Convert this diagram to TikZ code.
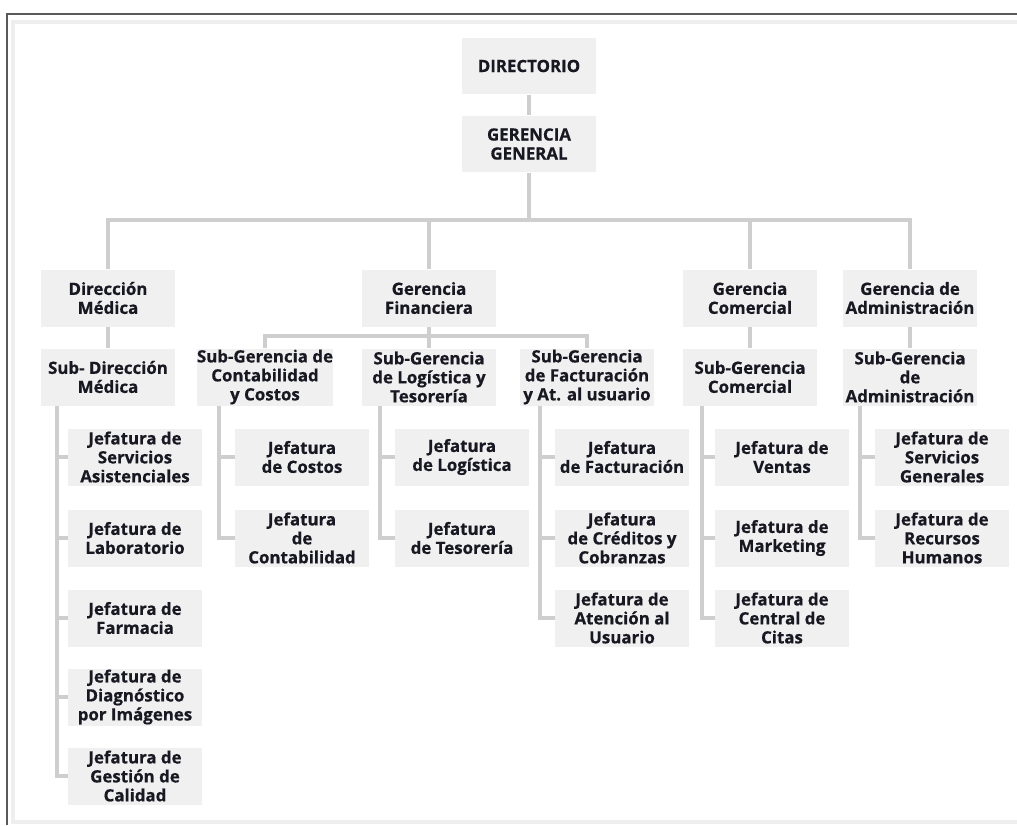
\documentclass[tikz,border=0pt]{standalone}
\usepackage{fontspec}
\setmainfont{Open Sans}[BoldFeatures={FakeBold=0.6}]
\definecolor{boxgray}{RGB}{240,240,240}
\definecolor{linegray}{RGB}{206,206,206}
\definecolor{framegray}{RGB}{238,238,238}
\definecolor{framedark}{RGB}{90,90,90}
\definecolor{textdark}{RGB}{24,24,34}
\tikzset{
	box/.style={fill=boxgray, text=textdark, font=\fontsize{9.6}{10.8}\selectfont\bfseries,
		align=center, minimum width=2.68cm, minimum height=1.14cm, inner sep=0pt},
	link/.style={draw=linegray, line width=0.08cm}
}
\begin{document}
\begin{tikzpicture}[x=0.02cm, y=-0.02cm]
	\useasboundingbox (0,0) rectangle (1017,825);
	\clip (0,0) rectangle (1017,825);
	
	% frame
	\draw[framegray, line width=0.07cm] (13,22) rectangle (1040,822);
	\draw[framedark, line width=0.03cm] (7,825) -- (7,14) -- (1017,14);
	
	% top
	\node[box] (dir) at (529, 66) {DIRECTORIO};
	\node[box] (gg) at (529, 144) {GERENCIA\\GENERAL};
	
	% gerencias
	\node[box] (dm) at (108, 298) {Dirección\\Médica};
	\node[box] (gf) at (429, 298) {Gerencia\\Financiera};
	\node[box] (gc) at (750, 298) {Gerencia\\Comercial};
	\node[box] (ga) at (910, 298) {Gerencia de\\Administración};
	
	% sub-gerencias
	\node[box] (sdm) at (108, 377) {Sub- Dirección\\Médica};
	\node[box] (sgcc) at (265, 377) {Sub-Gerencia de\\Contabilidad\\y Costos};
	\node[box] (sglt) at (429, 377) {Sub-Gerencia\\de Logística y\\Tesorería};
	\node[box] (sgfu) at (587, 377) {Sub-Gerencia\\de Facturación\\y At. al usuario};
	\node[box] (sgc) at (750, 377) {Sub-Gerencia\\Comercial};
	\node[box] (sga) at (910, 377) {Sub-Gerencia\\de\\Administración};
	
	% jefaturas
	\node[box] (jsa) at (135, 457) {Jefatura de\\Servicios\\Asistenciales};
	\node[box] (jlab) at (135, 538) {Jefatura de\\Laboratorio};
	\node[box] (jfar) at (135, 618) {Jefatura de\\Farmacia};
	\node[box] (jdi) at (135, 697) {Jefatura de\\Diagnóstico\\por Imágenes};
	\node[box] (jgc) at (135, 776) {Jefatura de\\Gestión de\\Calidad};
	
	\node[box] (jcos) at (302, 457) {Jefatura\\de Costos};
	\node[box] (jcon) at (302, 538) {Jefatura\\de\\Contabilidad};
	
	\node[box] (jlog) at (462, 457) {Jefatura\\de Logística};
	\node[box] (jtes) at (462, 538) {Jefatura\\de Tesorería};
	
	\node[box] (jfac) at (622, 457) {Jefatura\\de Facturación};
	\node[box] (jcre) at (622, 538) {Jefatura\\de Créditos y\\Cobranzas};
	\node[box] (jate) at (622, 618) {Jefatura de\\Atención al\\Usuario};
	
	\node[box] (jven) at (782, 457) {Jefatura de\\Ventas};
	\node[box] (jmar) at (782, 538) {Jefatura de\\Marketing};
	\node[box] (jcit) at (782, 618) {Jefatura de\\Central de\\Citas};
	
	\node[box] (jsg) at (942, 457) {Jefatura de\\Servicios\\Generales};
	\node[box] (jrh) at (942, 538) {Jefatura de\\Recursos\\Humanos};
	
	% connectors
	\draw[link] (dir) -- (gg);
	\draw[link] (gg.south) -- ++(0,47) -| (dm.north);
	\draw[link] (gg.south) -- ++(0,47) -| (gf.north);
	\draw[link] (gg.south) -- ++(0,47) -| (gc.north);
	\draw[link] (gg.south) -- ++(0,47) -| (ga.north);
	
	\draw[link] (dm) -- (sdm);
	\draw[link] (gf.south) -- ++(0,9) -| (sgcc.north);
	\draw[link] (gf) -- (sglt);
	\draw[link] (gf.south) -- ++(0,9) -| (sgfu.north);
	\draw[link] (gc) -- (sgc);
	\draw[link] (ga) -- (sga);
	
	\draw[link] (sdm.south west) ++(16,0) |- (jsa.west);
	\draw[link] (sdm.south west) ++(16,0) |- (jlab.west);
	\draw[link] (sdm.south west) ++(16,0) |- (jfar.west);
	\draw[link] (sdm.south west) ++(16,0) |- (jdi.west);
	\draw[link] (sdm.south west) ++(16,0) |- (jgc.west);
	
	\draw[link] (sgcc.south west) ++(22,0) |- (jcos.west);
	\draw[link] (sgcc.south west) ++(22,0) |- (jcon.west);
	
	\draw[link] (sglt.south west) ++(18,0) |- (jlog.west);
	\draw[link] (sglt.south west) ++(18,0) |- (jtes.west);
	
	\draw[link] (sgfu.south west) ++(20,0) |- (jfac.west);
	\draw[link] (sgfu.south west) ++(20,0) |- (jcre.west);
	\draw[link] (sgfu.south west) ++(20,0) |- (jate.west);
	
	\draw[link] (sgc.south west) ++(19,0) |- (jven.west);
	\draw[link] (sgc.south west) ++(19,0) |- (jmar.west);
	\draw[link] (sgc.south west) ++(19,0) |- (jcit.west);
	
	\draw[link] (sga.south west) ++(17,0) |- (jsg.west);
	\draw[link] (sga.south west) ++(17,0) |- (jrh.west);
	
\end{tikzpicture}
\end{document}
